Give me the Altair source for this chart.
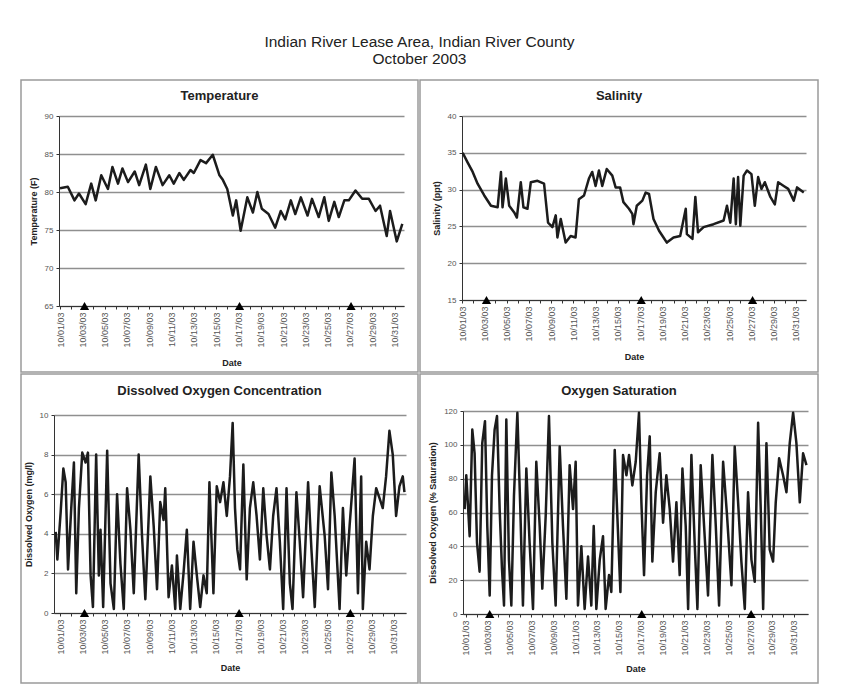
import altair as alt
import pandas as pd

FONT = "Liberation Sans"

# ---------------- data ----------------
temp_days = [0.0, 0.7, 1.3, 1.7, 2.3, 2.8, 3.2, 3.7, 4.3, 4.7, 5.2, 5.6, 6.1, 6.7, 7.1, 7.7,
             8.1, 8.6, 9.2, 9.8, 10.2, 10.7, 11.1, 11.7, 12.0, 12.6, 13.1, 13.7, 14.3, 14.6,
             15.0, 15.5, 15.8, 16.2, 16.8, 17.3, 17.7, 18.1, 18.7, 19.3, 19.8, 20.2, 20.7,
             21.1, 21.6, 22.2, 22.6, 23.2, 23.7, 24.1, 24.6, 25.0, 25.5, 25.9, 26.5, 27.1,
             27.7, 28.3, 28.7, 29.3, 29.6, 30.2, 30.7]
temp_vals = [80.5, 80.7, 78.9, 79.8, 78.4, 81.1, 78.9, 82.2, 80.4, 83.3, 81.1, 83.1, 81.3, 82.7,
             80.9, 83.6, 80.4, 83.3, 80.9, 82.2, 81.1, 82.5, 81.6, 82.9, 82.5, 84.2, 83.8, 84.9,
             82.2, 81.6, 80.4, 76.9, 78.9, 74.9, 79.3, 77.3, 80.0, 77.8, 77.1, 75.3, 77.5, 76.4,
             78.9, 77.1, 79.3, 76.9, 79.1, 76.7, 79.3, 76.2, 78.7, 76.7, 78.9, 78.9, 80.2, 79.1,
             79.1, 77.5, 78.2, 74.2, 77.5, 73.5, 75.8]

sal_days = [0.06, 0.5, 0.96, 1.4, 2.0, 2.6, 3.2, 3.5, 3.64, 3.94, 4.24, 4.69, 4.93, 5.28, 5.52,
            5.88, 6.18, 6.78, 7.37, 7.73, 8.12, 8.42, 8.57, 8.87, 9.31, 9.76, 10.2, 10.5, 10.96,
            11.4, 11.7, 12.0, 12.3, 12.6, 13.0, 13.5, 13.8, 14.2, 14.5, 15.0, 15.3, 15.4, 15.7,
            16.2, 16.5, 16.8, 17.2, 17.7, 18.1, 18.4, 19.0, 19.6, 20.1, 20.2, 20.7, 20.96, 21.2,
            21.7, 22.6, 23.5, 23.8, 24.1, 24.4, 24.6, 24.8, 25.0, 25.3, 25.6, 26.0, 26.3, 26.6,
            26.9, 27.2, 27.7, 28.1, 28.4, 28.9, 29.3, 29.8, 30.1, 30.7]
sal_vals = [35.0, 33.7, 32.4, 30.8, 29.2, 27.8, 27.6, 32.4, 27.6, 31.5, 27.8, 26.9, 26.2, 31.0,
            27.6, 27.4, 31.0, 31.2, 30.8, 25.5, 24.9, 26.5, 23.5, 26.0, 22.8, 23.7, 23.5, 28.7,
            29.2, 31.5, 32.4, 30.5, 32.6, 30.5, 32.8, 31.9, 30.3, 30.3, 28.3, 27.4, 26.7, 25.3,
            27.8, 28.5, 29.6, 29.4, 26.0, 24.4, 23.5, 22.8, 23.5, 23.7, 27.4, 23.95, 23.3, 29.0,
            24.2, 24.9, 25.3, 25.8, 27.8, 25.5, 31.5, 25.3, 31.7, 25.1, 31.9, 32.6, 32.1, 27.8,
            31.7, 30.1, 31.0, 29.0, 28.0, 31.0, 30.5, 30.1, 28.5, 30.3, 29.6]

do_days = [-0.39, -0.24, 0.06, 0.30, 0.51, 0.72, 1.01, 1.25, 1.46, 1.70,
           2.00, 2.30, 2.51, 2.75, 2.96, 3.25, 3.49, 3.64, 3.88, 4.24,
           4.54, 4.84, 5.13, 5.43, 5.73, 6.03, 6.33, 6.63, 7.07, 7.37,
           7.67, 8.12, 8.42, 8.72, 9.01, 9.31, 9.46, 9.76, 10.06, 10.36,
           10.51, 10.81, 11.10, 11.40, 11.70, 12.00, 12.30, 12.60, 12.90, 13.19,
           13.43, 13.79, 14.09, 14.39, 14.69, 14.99, 15.28, 15.52, 15.73, 15.94,
           16.18, 16.48, 16.78, 17.07, 17.37, 17.67, 17.97, 18.27, 18.57, 18.87,
           19.16, 19.46, 19.76, 20.06, 20.36, 20.66, 20.90, 21.25, 21.55, 21.85,
           22.30, 22.60, 22.90, 23.34, 23.79, 24.09, 24.39, 24.69, 25.13, 25.43,
           25.73, 26.03, 26.48, 26.78, 27.07, 27.22, 27.52, 27.82, 28.12, 28.42,
           28.72, 29.01, 29.31, 29.61, 29.91, 30.21, 30.51, 30.81, 30.96]
do_vals = [4.1, 2.7, 5.1, 7.3, 6.6, 2.2, 5.3, 7.6, 1.0, 5.3,
           8.1, 7.6, 8.1, 1.9, 0.3, 8.0, 1.9, 4.2, 0.3, 8.2,
           1.5, 0.2, 6.0, 2.5, 0.2, 6.3, 4.2, 1.0, 8.0, 3.9,
           0.7, 6.9, 4.4, 1.2, 5.6, 4.7, 6.3, 0.8, 2.4, 0.2,
           2.9, 0.2, 2.0, 4.2, 0.2, 3.6, 1.9, 0.3, 1.9, 1.0,
           6.6, 1.0, 6.4, 5.6, 6.6, 4.9, 6.9, 9.6, 5.3, 3.2,
           2.2, 7.5, 1.7, 5.3, 6.6, 4.9, 2.7, 6.3, 3.9, 2.2,
           4.9, 6.3, 3.6, 0.2, 6.3, 1.5, 0.2, 6.1, 3.6, 0.8,
           6.6, 3.2, 0.3, 6.4, 3.9, 1.2, 7.1, 4.9, 0.2, 5.3,
           1.9, 4.4, 7.8, 1.0, 6.9, 0.2, 3.6, 2.2, 4.9, 6.3,
           5.8, 5.3, 6.9, 9.2, 8.0, 4.9, 6.4, 6.9, 6.1]

sat_days = [-0.09, 0.06, 0.37, 0.61, 0.82, 1.04, 1.28, 1.52, 1.77, 1.98,
            2.20, 2.41, 2.65, 2.87, 3.11, 3.32, 3.51, 3.72, 3.96, 4.18,
            4.42, 4.73, 5.00, 5.24, 5.55, 5.85, 6.16, 6.46, 6.77, 7.01,
            7.32, 7.62, 7.93, 8.23, 8.60, 8.90, 9.21, 9.51, 9.82, 10.06,
            10.27, 10.58, 10.88, 11.19, 11.49, 11.71, 11.95, 12.26, 12.56, 12.80,
            13.11, 13.32, 13.63, 13.87, 14.15, 14.39, 14.70, 14.94, 15.24, 15.55,
            15.85, 16.07, 16.31, 16.59, 16.83, 17.07, 17.38, 17.74, 18.05, 18.35,
            18.66, 18.96, 19.27, 19.57, 19.82, 20.12, 20.34, 20.64, 20.94, 21.19,
            21.49, 21.80, 22.16, 22.56, 22.87, 23.17, 23.54, 23.90, 24.30, 24.60,
            24.91, 25.21, 25.52, 25.82, 26.13, 26.43, 26.74, 26.98, 27.20, 27.50,
            27.80, 28.11, 28.35, 28.66, 29.02, 29.33, 29.63, 29.94, 30.24, 30.55,
            30.85, 31.16]
sat_vals = [62, 82, 46, 109, 95, 42, 25, 101, 114, 52,
            11, 82, 109, 117, 62, 27, 5, 115, 32, 5,
            70, 119, 62, 5, 86, 42, 3, 90, 52, 15,
            58, 117, 42, 5, 99, 52, 9, 88, 62, 90,
            5, 40, 3, 34, 5, 52, 3, 32, 46, 3,
            23, 13, 97, 58, 13, 94, 82, 94, 76, 90,
            119, 66, 23, 82, 105, 31, 72, 95, 54, 82,
            62, 31, 66, 23, 86, 52, 3, 94, 42, 3,
            88, 52, 11, 94, 52, 5, 90, 58, 17, 99,
            66, 31, 3, 72, 32, 19, 113, 62, 3, 101,
            38, 31, 66, 92, 82, 72, 101, 119, 101, 66,
            95, 88]

marker_days = [2.2, 16.1, 26.1]

main_title = ["Indian River Lease Area, Indian River County", "October 2003"]

LABEL_EXPR = ("datum.value % 2 == 0 ? '10/' + (datum.value < 9 ? '0' : '') + "
              "(datum.value + 1) + '/03' : ''")


def frame(days, vals):
    n = min(len(days), len(vals))
    return pd.DataFrame({"day": days[:n], "v": vals[:n]})


def panel(df, title, ytitle, ydom, yvals, xdom, xr, yr, W, H, title_y, date_pad):
    x = alt.X("day:Q",
              scale=alt.Scale(domain=xdom, range=xr, nice=False, zero=False),
              axis=alt.Axis(values=list(range(0, 31)), labelExpr=LABEL_EXPR,
                            labelAngle=270, labelAlign="right", labelBaseline="middle",
                            labelOverlap=False, labelFlush=False,
                            offset=-(H - yr[0]), title="Date", grid=False,
                            labelPadding=3, titlePadding=date_pad))
    y = alt.Y("v:Q",
              scale=alt.Scale(domain=ydom, range=yr, nice=False, zero=False),
              axis=alt.Axis(values=yvals, offset=-xr[0], title=ytitle, grid=True,
                            labelPadding=3, titlePadding=6, labelOverlap=False,
                            labelFlush=False))
    line = alt.Chart(df).mark_line(color="#1c1c1c", strokeWidth=2.5,
                                   strokeJoin="round").encode(x=x, y=y)
    tri_df = pd.DataFrame({"day": marker_days, "v": [ydom[0]] * len(marker_days)})
    tri = alt.Chart(tri_df).mark_point(shape="triangle-up", filled=True, color="black",
                                       size=85, opacity=1).encode(x=x, y=y)
    ttl = alt.Chart(pd.DataFrame({"t": [title]})).mark_text(
        font=FONT, fontSize=13, fontWeight="bold", color="#222222", baseline="middle"
    ).encode(text="t:N", x=alt.value(W / 2), y=alt.value(title_y))
    return alt.layer(line, tri, ttl).properties(width=W, height=H)


p_temp = panel(frame(temp_days, temp_vals), "Temperature", "Temperature (F)",
               [65, 90], [65, 70, 75, 80, 85, 90], [-0.09, 30.85], [38, 383], [226, 36],
               397, 292, 16, 11)
p_sal = panel(frame(sal_days, sal_vals), "Salinity", "Salinity (ppt)",
              [15, 40], [15, 20, 25, 30, 35, 40], [0, 30.9], [42, 386], [220, 36],
              398, 292, 16, 11)
p_do = panel(frame(do_days, do_vals), "Dissolved Oxygen Concentration",
             "Dissolved Oxygen (mg/l)", [0, 10], [0, 2, 4, 6, 8, 10], [-0.54, 31.1],
             [33, 385], [239, 41], 397, 309, 17, 9)
p_sat = panel(frame(sat_days, sat_vals), "Oxygen Saturation",
              "Dissolved Oxygen (% Saturation)", [0, 120], [0, 20, 40, 60, 80, 100, 120],
              [-0.24, 31.3], [43, 388], [240, 37], 398, 309, 17, 9)

chart = alt.vconcat(
    alt.hconcat(p_temp, p_sal, spacing=0),
    alt.hconcat(p_do, p_sat, spacing=0),
    spacing=0,
).properties(
    title=alt.TitleParams(main_title, font=FONT, fontSize=15.5, fontWeight="normal",
                          color="#222222", anchor="middle", lineHeight=17, offset=12),
    padding={"left": 12, "top": 26, "right": 4, "bottom": 0},
    background="white",
).configure_view(
    stroke="#9a9a9a", strokeWidth=1.5
).configure_axis(
    domainColor="#333333", domainWidth=1, tickColor="#333333", tickSize=3,
    labelColor="#555555", labelFont=FONT, labelFontSize=8,
    titleFont=FONT, titleFontSize=9, titleFontWeight="bold", titleColor="#222222",
    gridColor="#8f8f8f", gridWidth=1.3
).configure_axisX(labelFontSize=9)

chart.save("out.html", embed_options={"renderer": "svg", "actions": False})
